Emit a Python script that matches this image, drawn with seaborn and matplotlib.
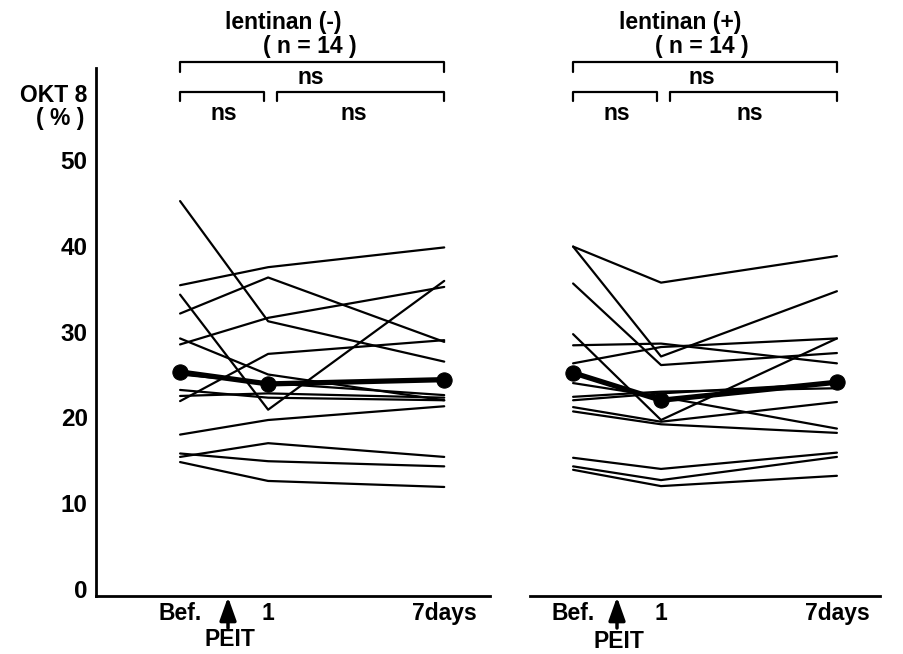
import matplotlib
matplotlib.use('Agg')
import matplotlib.pyplot as plt
import seaborn as sns
import pandas as pd
from matplotlib.transforms import blended_transform_factory

# ---------------- data ----------------
time_labels = ['Bef.', '1', '7days']
time_pos = [0, 1, 3]

left_bef = [45.2, 35.4, 34.3, 32.1, 28.5, 29.2, 21.9, 23.2, 18.0, 15.4, 15.8, 14.8, 25.0, 22.5]
left_d1 = [31.2, 37.5, 20.9, 36.3, 31.6, 25.0, 27.4, 22.3, 19.7, 17.0, 14.9, 12.6, 24.0, 22.8]
left_d7 = [26.5, 39.8, 35.9, 28.8, 35.2, 22.0, 29.0, 22.0, 21.3, 15.4, 14.3, 11.9, 22.6, 22.3]
left_mean = [25.3, 23.9, 24.4]

right_bef = [39.9, 39.9, 35.6, 28.4, 26.3, 29.7, 24.0, 20.7, 21.2, 22.4, 22.0, 15.3, 14.3, 13.9]
right_d1 = [35.7, 27.1, 26.1, 28.6, 28.2, 19.7, 22.4, 19.2, 19.5, 23.0, 22.8, 14.0, 12.7, 12.0]
right_d7 = [38.8, 34.7, 27.5, 26.3, 29.2, 29.2, 18.7, 18.2, 21.8, 23.4, 24.0, 15.9, 15.4, 13.2]
right_mean = [25.2, 22.0, 24.1]

y_ticks = [0, 10, 20, 30, 40, 50]


def long_df(bef, d1, d7):
    rows = []
    for i, vals in enumerate(zip(bef, d1, d7)):
        for p, v in zip(time_pos, vals):
            rows.append({'subj': i, 'pos': p, 'val': v})
    return pd.DataFrame(rows)


dfL = long_df(left_bef, left_d1, left_d7)
dfR = long_df(right_bef, right_d1, right_d7)
mL = pd.DataFrame({'pos': time_pos, 'val': left_mean})
mR = pd.DataFrame({'pos': time_pos, 'val': right_mean})

# ---------------- figure ----------------
sns.set_theme(style='white')
plt.rcParams['font.family'] = ['Liberation Sans Narrow', 'Liberation Sans', 'DejaVu Sans']
plt.rcParams['font.weight'] = 'bold'
for k in ['text.color', 'axes.labelcolor', 'xtick.color', 'ytick.color']:
    plt.rcParams[k] = 'black'

W, H = 904, 654
fig = plt.figure(figsize=(W / 100, H / 100), dpi=100)


def rect(x0, y0, x1, y1):
    return [x0 / W, 1 - y1 / H, (x1 - x0) / W, (y1 - y0) / H]


axL = fig.add_axes(rect(96, 68, 490, 596))
axR = fig.add_axes(rect(530, 68, 880, 596))

FS = 16.5

for ax, df, m, xl in [(axL, dfL, mL, (-0.955, 3.52)), (axR, dfR, mR, (-0.49, 3.49))]:
    sns.lineplot(data=df, x='pos', y='val', units='subj', estimator=None,
                 color='black', lw=1.6, ax=ax, legend=False)
    sns.lineplot(data=m, x='pos', y='val', color='black', lw=3.8,
                 marker='o', markersize=11, markeredgecolor='black', ax=ax, legend=False)
    ax.set_xlim(*xl)
    ax.set_ylim(-0.8, 60.7)
    ax.set_xlabel('')
    ax.set_ylabel('')
    ax.set_xticks(time_pos)
    ax.set_xticklabels(time_labels, fontsize=FS, fontweight='bold')
    ax.tick_params(axis='x', direction='in', length=8, width=1.5, color='black',
                   labelcolor='black', pad=4)
    for s in ['top', 'right', 'left']:
        ax.spines[s].set_visible(False)
    ax.spines['bottom'].set_color('black')
    ax.spines['bottom'].set_linewidth(2)
    ax.set_facecolor('none')

axL.spines['left'].set_visible(True)
axL.spines['left'].set_color('black')
axL.spines['left'].set_linewidth(2)
axL.set_yticks(y_ticks)
axL.set_yticklabels([str(t) for t in y_ticks], fontsize=FS + 1, fontweight='bold')
axL.tick_params(axis='y', length=0, pad=6, labelcolor='black')
axR.set_yticks([])


def ftext(x, y, s, **kw):
    fig.text(x / W, 1 - y / H, s, ha='center', va='center', fontsize=FS,
             fontweight='bold', color='black', **kw)


# y label
ftext(54, 95, 'OKT 8')
ftext(60, 118, '( % )')

# titles
ftext(283, 22, 'lentinan (-)')
ftext(310, 47, '( n = 14 )')
ftext(680, 22, 'lentinan (+)')
ftext(702, 47, '( n = 14 )')


# brackets
def bracket(ax, x0, x1, ytop, ybot):
    tr = blended_transform_factory(ax.transData, fig.transFigure)
    ax.plot([x0, x0, x1, x1], [1 - ybot / H, 1 - ytop / H, 1 - ytop / H, 1 - ybot / H],
            color='black', lw=1.6, transform=tr, clip_on=False)


for ax in (axL, axR):
    bracket(ax, 0, 3, 62, 72)
    bracket(ax, 0, 0.95, 92, 101)
    bracket(ax, 1.1, 3, 92, 101)

ftext(311, 77, 'ns')
ftext(224, 113, 'ns')
ftext(354, 113, 'ns')
ftext(702, 77, 'ns')
ftext(617, 113, 'ns')
ftext(750, 113, 'ns')

# PEIT arrows
for xa, yt in [(228, 640), (617, 641)]:
    fig.add_artist(matplotlib.patches.FancyArrowPatch(
        (xa / W, 1 - 628 / H), (xa / W, 1 - 597 / H), transform=fig.transFigure,
        arrowstyle='-|>,head_width=5,head_length=14', lw=2.5, color='black',
        mutation_scale=1, shrinkA=0, shrinkB=0))
    ftext(xa + 2, yt, 'PEIT')

fig.savefig('out.png', dpi=100, facecolor='white')
